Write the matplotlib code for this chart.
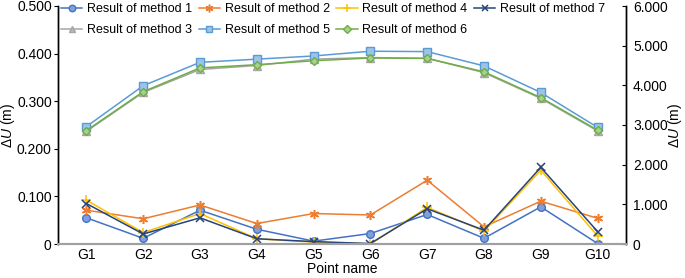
import matplotlib
matplotlib.use("Agg")
import matplotlib.pyplot as plt
from matplotlib.ticker import FuncFormatter, MultipleLocator

plt.rcParams['font.family'] = ['Liberation Sans', 'DejaVu Sans']
plt.rcParams['mathtext.fontset'] = 'custom'
plt.rcParams['mathtext.rm'] = 'Liberation Sans'
plt.rcParams['mathtext.it'] = 'Liberation Sans:italic'

points = ["G1", "G2", "G3", "G4", "G5", "G6", "G7", "G8", "G9", "G10"]

# primary (left) axis series
method1 = [0.055, 0.012, 0.071, 0.031, 0.006, 0.022, 0.062, 0.012, 0.078, 0.001]
method2 = [0.071, 0.053, 0.082, 0.043, 0.064, 0.061, 0.134, 0.036, 0.090, 0.054]
method4 = [0.092, 0.024, 0.064, 0.011, 0.004, 0.000, 0.077, 0.027, 0.155, 0.017]
method7 = [0.085, 0.021, 0.055, 0.011, 0.005, 0.001, 0.074, 0.029, 0.161, 0.026]

# secondary (right) axis series
method3 = [2.84, 3.82, 4.40, 4.50, 4.66, 4.70, 4.68, 4.32, 3.67, 2.85]
method5 = [2.96, 3.99, 4.58, 4.66, 4.74, 4.86, 4.85, 4.49, 3.82, 2.94]
method6 = [2.86, 3.84, 4.44, 4.52, 4.62, 4.69, 4.68, 4.34, 3.69, 2.87]

fig = plt.figure(figsize=(6.85, 2.78), dpi=100)
ax = fig.add_axes([58/685, 34/278, 568/685, 238/278])
ax2 = ax.twinx()

x = [i + 0.5 for i in range(len(points))]
lw = 1.1
ms = 5.5

h1, = ax.plot(x, method1, color='#4472C4', lw=lw, marker='o', ms=ms,
              mfc='#7F9FDD', mec='#4472C4', label='Result of method 1')
h2, = ax.plot(x, method2, color='#ED7D31', lw=lw, marker=(6, 2, 0), ms=ms+1,
              mec='#ED7D31', mew=1.1, label='Result of method 2')
h4, = ax.plot(x, method4, color='#FFC000', lw=lw, marker='+', ms=ms+1,
              mec='#FFC000', mew=1.1, label='Result of method 4')
h7, = ax.plot(x, method7, color='#264478', lw=lw, marker='x', ms=ms,
              mec='#264478', mew=1.1, label='Result of method 7')

h3, = ax2.plot(x, method3, color='#A5A5A5', lw=lw, marker='^', ms=ms,
               mfc='#B8B8B8', mec='#A5A5A5', label='Result of method 3')
h5, = ax2.plot(x, method5, color='#5B9BD5', lw=lw, marker='s', ms=ms,
               mfc='#9DC3E6', mec='#5B9BD5', label='Result of method 5')
h6, = ax2.plot(x, method6, color='#70AD47', lw=lw, marker='D', ms=ms-1,
               mfc='#A9D18E', mec='#70AD47', label='Result of method 6')

ax.set_xlim(0, len(points))
ax.set_ylim(0, 0.5)
ax2.set_ylim(0, 6)
ax.set_xticks(x)
ax.set_xticklabels(points, fontsize=10)
ax.tick_params(axis='x', length=0, pad=3)
ax.yaxis.set_major_locator(MultipleLocator(0.1))
ax2.yaxis.set_major_locator(MultipleLocator(1))
fmt = FuncFormatter(lambda v, p: '0' if abs(v) < 1e-9 else f'{v:.3f}')
ax.yaxis.set_major_formatter(fmt)
ax2.yaxis.set_major_formatter(fmt)
ax.tick_params(axis='y', labelsize=10, length=3, direction='out', pad=1.5)
ax2.tick_params(axis='y', labelsize=10, length=3, direction='in', pad=5)

for a in (ax, ax2):
    a.spines['top'].set_visible(False)
    a.spines['bottom'].set_color('#A0A0A0')
    a.spines['bottom'].set_linewidth(1.5)
    a.spines['left'].set_linewidth(1.0)
    a.spines['right'].set_linewidth(1.0)

ax.set_xlabel('Point name', fontsize=10, labelpad=0)
ax.set_ylabel(r'$\Delta\mathit{U}$ (m)', fontsize=10)
ax2.set_ylabel(r'$\Delta\mathit{U}$ (m)', fontsize=10, rotation=90)
ax.yaxis.set_label_coords(-0.072, 0.5)
ax2.yaxis.set_label_coords(1.071, 0.5)

handles = [h1, h3, h2, h5, h4, h6, h7]
fig.legend(handles=handles, ncol=4, loc='upper left',
           bbox_to_anchor=(61/685, 1 - 3/278),
           frameon=False, fontsize=9, handlelength=1.7, handletextpad=0.4,
           columnspacing=0.5, labelspacing=0.75, borderaxespad=0, borderpad=0,
           markerscale=0.85)

fig.savefig('out.png', dpi=100)
